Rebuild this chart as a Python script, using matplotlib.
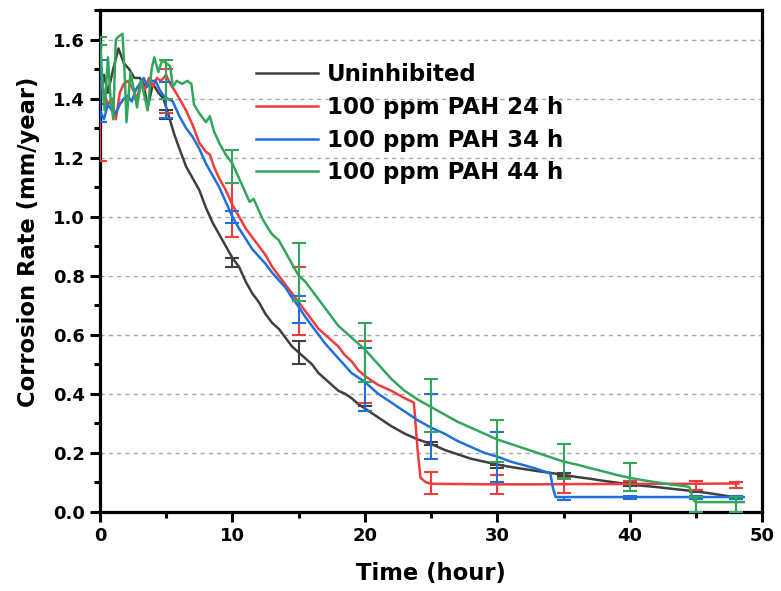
import numpy as np
import matplotlib
matplotlib.use("Agg")
from matplotlib import pyplot as plt
from matplotlib.ticker import MultipleLocator

plt.rcParams['font.family'] = ['DejaVu Sans']
plt.rcParams['font.weight'] = 'bold'

# ---- data ----
labels = ['Uninhibited', '100 ppm PAH 24 h', '100 ppm PAH 34 h', '100 ppm PAH 44 h']
colors = ['#3f3f3f', '#f03c3c', '#1f6fdc', '#33a65e']

t_black = [0, 0.3, 0.6, 1.0, 1.4, 1.8, 2.2, 2.6, 3.0, 3.3, 3.6, 4.0, 4.4, 4.8, 5.2, 5.6,
           6.0, 6.5, 7.0, 7.5, 8.0, 8.5, 9.0, 9.5, 10, 10.5, 11, 11.5, 12, 12.5, 13, 13.5,
           14, 14.5, 15, 15.5, 16, 16.5, 17, 17.5, 18, 18.5, 19, 19.5, 20, 21, 22, 23, 24,
           25, 26, 27, 28, 29, 30, 31, 32, 33, 34, 35, 36, 37, 38, 39, 40, 41, 42, 43, 44,
           45, 46, 47, 48]
cr_black = [1.40, 1.48, 1.42, 1.50, 1.57, 1.52, 1.50, 1.47, 1.47, 1.45, 1.37, 1.45, 1.42,
            1.40, 1.34, 1.28, 1.23, 1.17, 1.13, 1.09, 1.03, 0.98, 0.94, 0.90, 0.86, 0.83,
            0.78, 0.74, 0.71, 0.67, 0.64, 0.62, 0.59, 0.56, 0.54, 0.52, 0.50, 0.47, 0.45,
            0.43, 0.41, 0.40, 0.385, 0.365, 0.35, 0.32, 0.29, 0.265, 0.245, 0.23, 0.21,
            0.195, 0.18, 0.17, 0.16, 0.152, 0.145, 0.138, 0.132, 0.125, 0.118, 0.112, 0.105,
            0.099, 0.092, 0.088, 0.084, 0.079, 0.074, 0.069, 0.063, 0.056, 0.048]

t_red = [0, 0.3, 0.6, 0.9, 1.2, 1.5, 1.8, 2.1, 2.4, 2.8, 3.1, 3.4, 3.7, 4.0, 4.3, 4.6, 5.0,
         5.3, 5.6, 6.0, 6.5, 7.0, 7.5, 8.0, 8.3, 8.6, 9.0, 9.5, 10, 10.5, 11, 11.5, 12, 12.5,
         13, 13.5, 14, 14.5, 15, 15.5, 16, 16.5, 17, 17.5, 18, 18.5, 19, 19.5, 20, 21, 22,
         23, 23.7, 24.0, 24.2, 24.6, 25, 27, 30, 33, 36, 39, 42, 45, 48.2]
cr_red = [1.47, 1.42, 1.38, 1.40, 1.33, 1.42, 1.45, 1.46, 1.44, 1.40, 1.46, 1.43, 1.47, 1.44,
          1.47, 1.46, 1.48, 1.45, 1.43, 1.40, 1.36, 1.31, 1.25, 1.22, 1.21, 1.17, 1.13, 1.09,
          1.04, 1.00, 0.96, 0.93, 0.90, 0.87, 0.83, 0.80, 0.77, 0.74, 0.71, 0.68, 0.65, 0.62,
          0.60, 0.58, 0.56, 0.53, 0.51, 0.48, 0.46, 0.43, 0.41, 0.385, 0.37, 0.20, 0.115,
          0.10, 0.095, 0.094, 0.093, 0.093, 0.094, 0.094, 0.095, 0.095, 0.096]

t_blue = [0, 0.3, 0.6, 0.9, 1.2, 1.5, 1.8, 2.1, 2.4, 2.7, 3.0, 3.3, 3.6, 3.9, 4.2, 4.5, 4.8,
          5.1, 5.5, 6.0, 6.5, 7.0, 7.5, 8.0, 8.5, 9.0, 9.5, 10, 10.5, 11, 11.5, 12, 12.5, 13,
          13.5, 14, 14.5, 15, 15.5, 16, 16.5, 17, 17.5, 18, 18.5, 19, 19.5, 20, 21, 22, 23,
          24, 25, 26, 27, 28, 29, 30, 31, 32, 33, 34, 34.2, 34.4, 36, 40, 44, 48.6]
cr_blue = [1.36, 1.33, 1.38, 1.36, 1.35, 1.38, 1.40, 1.41, 1.39, 1.43, 1.45, 1.47, 1.44, 1.46,
           1.46, 1.43, 1.41, 1.40, 1.39, 1.34, 1.30, 1.27, 1.23, 1.18, 1.14, 1.10, 1.05, 1.00,
           0.96, 0.925, 0.89, 0.865, 0.84, 0.81, 0.785, 0.76, 0.725, 0.695, 0.66, 0.63, 0.60,
           0.57, 0.545, 0.52, 0.495, 0.47, 0.455, 0.44, 0.40, 0.37, 0.34, 0.31, 0.285, 0.265,
           0.24, 0.22, 0.20, 0.187, 0.17, 0.158, 0.145, 0.13, 0.08, 0.05, 0.05, 0.05, 0.05, 0.05]

t_green = [0, 0.2, 0.35, 0.6, 0.8, 1.0, 1.2, 1.4, 1.7, 1.9, 2.0, 2.3, 2.6, 2.8, 3.1, 3.3,
           3.6, 3.9, 4.1, 4.4, 4.7, 5.0, 5.3, 5.5, 5.8, 6.2, 6.6, 6.9, 7.1, 7.5, 8.0, 8.3,
           8.6, 9.0, 9.5, 10, 10.5, 11, 11.3, 11.6, 12, 12.3, 12.7, 13, 13.5, 14, 14.5, 15,
           15.5, 16, 16.5, 17, 17.5, 18, 18.5, 19, 19.5, 20, 21, 22, 23, 24, 25, 26, 27, 28,
           29, 30, 31, 32, 33, 34, 35, 36, 37, 38, 39, 40, 41, 42, 43, 44, 44.5, 44.8, 45, 48.6]
cr_green = [1.60, 1.45, 1.36, 1.54, 1.40, 1.33, 1.60, 1.61, 1.62, 1.45, 1.32, 1.49, 1.42,
            1.37, 1.46, 1.42, 1.36, 1.50, 1.54, 1.49, 1.53, 1.52, 1.51, 1.44, 1.46, 1.45,
            1.46, 1.45, 1.38, 1.35, 1.32, 1.34, 1.29, 1.25, 1.21, 1.18, 1.13, 1.08, 1.05,
            1.06, 1.02, 0.99, 0.96, 0.94, 0.92, 0.88, 0.84, 0.80, 0.78, 0.75, 0.72, 0.69,
            0.66, 0.63, 0.61, 0.59, 0.57, 0.55, 0.50, 0.45, 0.41, 0.38, 0.355, 0.33, 0.305,
            0.285, 0.265, 0.245, 0.23, 0.215, 0.20, 0.185, 0.17, 0.16, 0.148, 0.137, 0.125,
            0.115, 0.107, 0.10, 0.093, 0.088, 0.084, 0.04, 0.033, 0.033]

# error bars: time, lower, upper
t_err = [0, 5, 10, 15, 20, 25, 30, 35, 40, 45, 48]
lo_black = [1.38, 1.33, 0.83, 0.50, 0.34, 0.225, 0.15, 0.12, 0.088, 0.068, 0.045]
hi_black = [1.42, 1.36, 0.86, 0.58, 0.36, 0.235, 0.16, 0.13, 0.10, 0.075, 0.052]
lo_red = [1.19, 1.35, 0.93, 0.60, 0.37, 0.06, 0.06, 0.065, 0.071, 0.075, 0.082]
hi_red = [1.61, 1.50, 1.115, 0.83, 0.58, 0.135, 0.125, 0.113, 0.105, 0.105, 0.102]
lo_blue = [1.32, 1.335, 0.98, 0.64, 0.34, 0.18, 0.10, 0.04, 0.045, 0.045, 0.045]
hi_blue = [1.53, 1.455, 1.02, 0.73, 0.555, 0.40, 0.27, 0.05, 0.055, 0.055, 0.055]
lo_green = [1.58, 1.40, 1.115, 0.715, 0.44, 0.27, 0.17, 0.11, 0.07, 0.0, 0.0]
hi_green = [1.61, 1.53, 1.225, 0.91, 0.64, 0.45, 0.31, 0.23, 0.165, 0.05, 0.05]

series = [(t_black, cr_black, lo_black, hi_black),
          (t_red, cr_red, lo_red, hi_red),
          (t_blue, cr_blue, lo_blue, hi_blue),
          (t_green, cr_green, lo_green, hi_green)]

fig = plt.figure(figsize=(7.81, 5.91), dpi=100)
ax = fig.add_axes([0.128, 0.134, 0.848, 0.849])

for (t, y, lo, hi), c, lab in zip(series, colors, labels):
    ax.plot(t, y, color=c, lw=1.8, label=lab, zorder=3)
    lo = np.array(lo)
    hi = np.array(hi)
    mid = (lo + hi) / 2
    ax.errorbar(t_err, mid, yerr=(hi - lo) / 2, fmt='none', ecolor=c,
                elinewidth=1.5, capsize=5, capthick=1.5, zorder=3)

ax.set_xlim(0, 50)
ax.set_ylim(0, 1.7)
ax.xaxis.set_major_locator(MultipleLocator(10))
ax.xaxis.set_minor_locator(MultipleLocator(5))
ax.yaxis.set_major_locator(MultipleLocator(0.2))
ax.yaxis.set_minor_locator(MultipleLocator(0.1))
ax.yaxis.grid(True, which='major', ls=(0, (3, 3)), color='#a8a8a8', lw=1)
ax.set_axisbelow(True)

for s in ax.spines.values():
    s.set_linewidth(2.3)
ax.tick_params(which='major', length=7, width=2.2, labelsize=13, direction='out', pad=4)
ax.tick_params(which='minor', length=4, width=2.2, direction='out')
for lab in ax.get_xticklabels() + ax.get_yticklabels():
    lab.set_fontweight('bold')

ax.set_xlabel('Time (hour)', fontsize=16.3, fontweight='bold', labelpad=12)
ax.set_ylabel('Corrosion Rate (mm/year)', fontsize=16.3, fontweight='bold')
ax.yaxis.set_label_coords(-0.091, 0.538)

ax.legend(loc='upper left', bbox_to_anchor=(0.204, 0.935), frameon=False,
          prop={'size': 16.5, 'weight': 'bold'}, handlelength=2.7,
          handletextpad=0.4, labelspacing=0.42)

fig.savefig('out.png', dpi=100)
